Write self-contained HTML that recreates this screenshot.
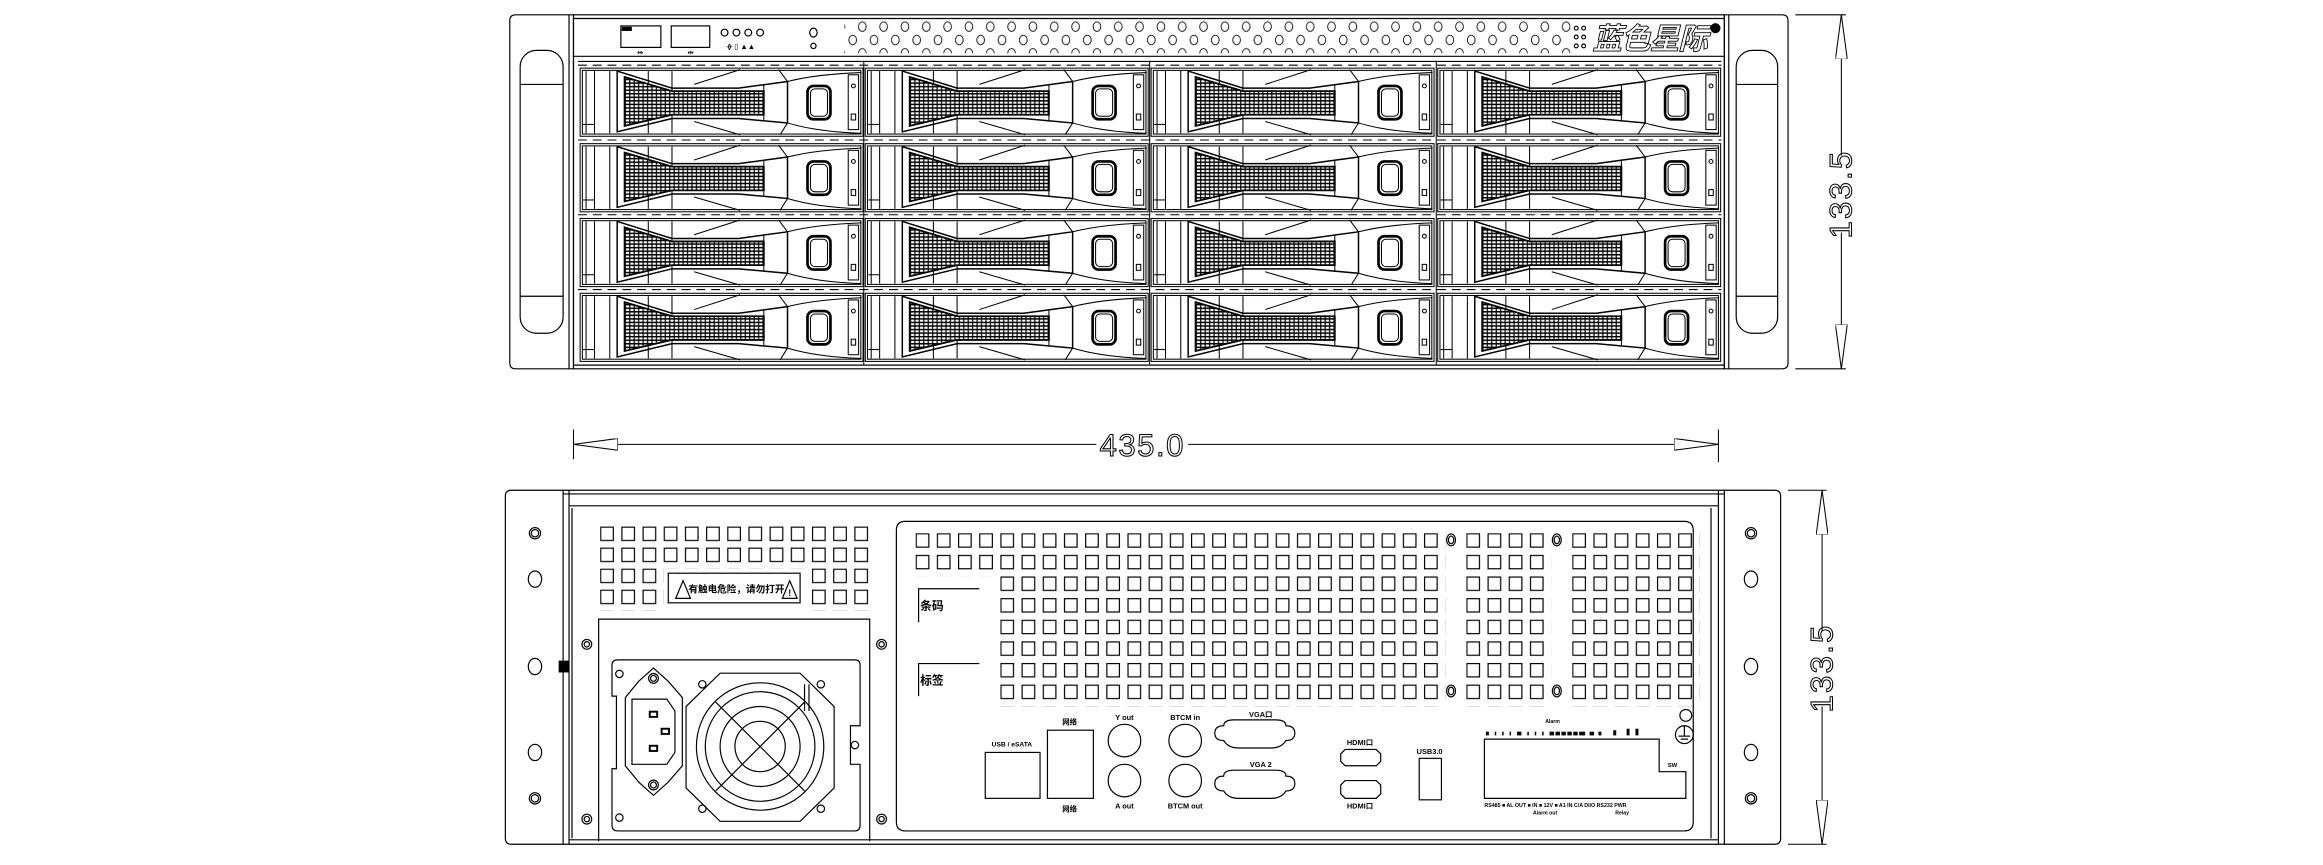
<!DOCTYPE html>
<html><head><meta charset="utf-8"><style>
html,body{margin:0;padding:0;background:#fff;}
svg{display:block;}
text{font-family:"Liberation Sans","Noto Sans CJK SC",sans-serif;}
</style></head><body>
<svg width="2323" height="865" viewBox="0 0 1568 584" xmlns="http://www.w3.org/2000/svg">
<defs>
  <pattern id="hatch" width="3" height="2.4" patternUnits="userSpaceOnUse">
    <rect width="3" height="2.4" fill="#fff"/>
    <line x1="0" y1="0.5" x2="3" y2="0.5" stroke="#000" stroke-width="1"/>
    <line x1="0.5" y1="0" x2="0.5" y2="2.4" stroke="#000" stroke-width="0.8"/>
  </pattern>
  <pattern id="holes" x="575" y="13" width="14.4" height="18" patternUnits="userSpaceOnUse">
    <ellipse cx="7" cy="5" rx="2.6" ry="3.2" fill="none" stroke="#000" stroke-width="0.6"/>
    <ellipse cx="0.5" cy="14" rx="2.6" ry="3.2" fill="none" stroke="#000" stroke-width="0.6"/>
    <ellipse cx="14.9" cy="14" rx="2.6" ry="3.2" fill="none" stroke="#000" stroke-width="0.6"/>
  </pattern>
  <pattern id="sq" x="618" y="360" width="14.3" height="14.6" patternUnits="userSpaceOnUse">
    <rect x="0.4" y="0.4" width="8.5" height="9" fill="none" stroke="#000" stroke-width="0.8"/>
  </pattern>
  <pattern id="sq2" x="405" y="355.5" width="14.3" height="14.2" patternUnits="userSpaceOnUse">
    <rect x="0.4" y="0.4" width="8.5" height="9" fill="none" stroke="#000" stroke-width="0.8"/>
  </pattern>
  <g id="bay" fill="none" stroke="#000" stroke-width="0.7">
    <rect x="0" y="0" width="191" height="46"/>
    <rect x="1.5" y="1.5" width="188" height="43"/>
    <line x1="4" y1="2" x2="4" y2="44"/>
    <line x1="9.7" y1="2" x2="9.7" y2="44"/>
    <line x1="2" y1="38" x2="9.7" y2="38"/>
    <line x1="20" y1="2" x2="20" y2="44"/>
    <line x1="46" y1="2" x2="46" y2="44"/>
    <line x1="62" y1="2" x2="62" y2="44"/>
    <polygon points="25,2 62,13.5 107,13.5 140,9 140,37 107,34 62,34 25,43" stroke-width="1"/>
    <polygon points="30,6 62,15.5 124,15.5 124,31.5 62,31.5 30,39" fill="url(#hatch)" stroke-width="1.2"/>
    <line x1="124" y1="11" x2="124" y2="36"/>
    <line x1="77" y1="11" x2="108" y2="1"/>
    <line x1="77" y1="36" x2="108" y2="45"/>
    <line x1="134" y1="1" x2="140" y2="9"/>
    <line x1="140" y1="37" x2="135" y2="45"/>
    <path d="M140,9 Q160,4 190,3"/>
    <path d="M140,37 Q160,43 190,44"/>
    <rect x="153.5" y="12" width="15.5" height="22.5" rx="4" stroke-width="1.8"/>
    <rect x="155.5" y="14" width="11.5" height="18.5" rx="3"/>
    <rect x="181" y="4.5" width="7" height="37"/>
    <circle cx="184.5" cy="12" r="1.3"/>
    <rect x="183" y="31" width="3" height="4"/>
  </g>
  <marker id="a" viewBox="0 0 30 8" refX="30" refY="4" markerWidth="30" markerHeight="8" markerUnits="userSpaceOnUse" orient="auto">
    <path d="M0,0 L30,4 L0,8 Z" fill="#fff" stroke="#000" stroke-width="0.7"/>
  </marker>
</defs>

<!-- ============ FRONT VIEW ============ -->
<g fill="none" stroke="#000" stroke-width="0.8">
  <path d="M348,10 H387 V249 H348 Q344,249 344,245 V14 Q344,10 348,10 Z"/>
  <rect x="351" y="34" width="29" height="191" rx="11"/>
  <line x1="351" y1="57" x2="380" y2="57"/>
  <line x1="351" y1="200" x2="380" y2="200"/>
  <line x1="384" y1="10" x2="384" y2="249"/>
  <path d="M1164,10 H1203 Q1207,10 1207,14 V245 Q1207,249 1203,249 H1164 Z"/>
  <rect x="1172" y="34" width="28" height="191" rx="11"/>
  <line x1="1172" y1="57" x2="1200" y2="57"/>
  <line x1="1172" y1="200" x2="1200" y2="200"/>
  <line x1="1167" y1="10" x2="1167" y2="249"/>
  <rect x="387" y="10" width="777" height="239"/>
  <line x1="387" y1="12.5" x2="1164" y2="12.5"/>
  <line x1="387" y1="38" x2="1164" y2="38"/>
  <line x1="390" y1="41.5" x2="1162" y2="41.5"/>
  <line x1="387" y1="246.5" x2="1164" y2="246.5"/>
  <rect x="419" y="17.5" width="27" height="14.5"/>
  <rect x="420" y="18.5" width="6" height="2" fill="#000"/>
  <rect x="453" y="17.5" width="26" height="14.5"/>
  <text x="432" y="37" font-size="5" fill="#000" stroke="none" text-anchor="middle">⇹</text>
  <text x="466" y="37" font-size="5" fill="#000" stroke="none" text-anchor="middle">⇹</text>
  <circle cx="489" cy="22" r="2.3"/><circle cx="497" cy="22" r="2.3"/>
  <circle cx="505" cy="22" r="2.3"/><circle cx="513" cy="22" r="2.3"/>
  <text x="500" y="33" font-size="5" fill="#000" stroke="none" text-anchor="middle">ᚖ ▯ ▲▲</text>
  <ellipse cx="549" cy="22" rx="2.5" ry="3"/>
  <circle cx="549" cy="31" r="1.8"/>
  <rect x="570" y="13" width="490" height="23" fill="url(#holes)" stroke="none"/>
  <circle cx="1064" cy="19" r="1.3"/><circle cx="1069" cy="19" r="1.3"/>
  <circle cx="1064" cy="25" r="1.3"/><circle cx="1069" cy="25" r="1.3"/>
  <circle cx="1064" cy="31" r="1.3"/><circle cx="1069" cy="31" r="1.3"/>
  <text x="1075" y="33" font-size="20" font-weight="bold" font-style="italic" fill="none" stroke="#000" stroke-width="0.6" font-family="'Noto Sans CJK SC',sans-serif" textLength="78">蓝色星际</text>
  <circle cx="1158" cy="19" r="3" fill="#000"/>
</g>
<use href="#bay" x="391.5" y="46"/><use href="#bay" x="584" y="46"/><use href="#bay" x="777" y="46"/><use href="#bay" x="970.5" y="46"/>
<use href="#bay" x="391.5" y="97"/><use href="#bay" x="584" y="97"/><use href="#bay" x="777" y="97"/><use href="#bay" x="970.5" y="97"/>
<use href="#bay" x="391.5" y="147.5"/><use href="#bay" x="584" y="147.5"/><use href="#bay" x="777" y="147.5"/><use href="#bay" x="970.5" y="147.5"/>
<use href="#bay" x="391.5" y="198"/><use href="#bay" x="584" y="198"/><use href="#bay" x="777" y="198"/><use href="#bay" x="970.5" y="198"/>
<g stroke="#000" stroke-width="0.7" fill="none">
  <line x1="583" y1="41" x2="583" y2="246"/><line x1="776" y1="41" x2="776" y2="246"/><line x1="969.5" y1="41" x2="969.5" y2="246"/>
  <line x1="390" y1="94.5" x2="1162" y2="94.5" stroke-dasharray="6,4"/>
  <line x1="390" y1="145" x2="1162" y2="145" stroke-dasharray="6,4"/>
  <line x1="390" y1="195.5" x2="1162" y2="195.5" stroke-dasharray="6,4"/>
  <line x1="390" y1="44" x2="1162" y2="44" stroke-dasharray="6,4"/>
</g>

<g stroke="#000" stroke-width="0.7" fill="none">
  <line x1="1212" y1="10" x2="1246" y2="10"/>
  <line x1="1212" y1="249" x2="1246" y2="249"/>
  <line x1="1243" y1="105" x2="1243" y2="10" marker-end="url(#a)"/>
  <line x1="1243" y1="157" x2="1243" y2="249" marker-end="url(#a)"/>
  <line x1="387" y1="290" x2="387" y2="310"/>
  <line x1="1160" y1="290" x2="1160" y2="312"/>
  <line x1="740" y1="300" x2="387" y2="300" marker-end="url(#a)"/>
  <line x1="802" y1="300" x2="1160" y2="300" marker-end="url(#a)"/>
</g>
<text x="771" y="308" font-size="21" text-anchor="middle" letter-spacing="1" fill="none" stroke="#000" stroke-width="0.7">435.0</text>
<text transform="translate(1250,131) rotate(-90)" font-size="21" text-anchor="middle" letter-spacing="1.5" fill="none" stroke="#000" stroke-width="0.7">133.5</text>

<!-- ============ REAR VIEW ============ -->
<g fill="none" stroke="#000" stroke-width="0.8">
  <path d="M345,331 H380 V570 H345 Q341,570 341,566 V335 Q341,331 345,331 Z"/>
  <line x1="384" y1="331" x2="384" y2="570"/>
  <line x1="386" y1="343" x2="386" y2="566"/>
  <path d="M1164,331 H1198 Q1202,331 1202,335 V566 Q1202,570 1198,570 H1164 Z"/>
  <line x1="1160" y1="331" x2="1160" y2="570"/>
  <line x1="1155" y1="343" x2="1155" y2="566"/>
  <line x1="380" y1="331" x2="1164" y2="331"/>
  <line x1="380" y1="333.5" x2="1164" y2="333.5"/>
  <line x1="384" y1="341.5" x2="1160" y2="341.5"/>
  <line x1="380" y1="570" x2="1164" y2="570"/>
  <line x1="384" y1="567" x2="1160" y2="567"/>
  <circle cx="361" cy="360" r="3.8"/><circle cx="361" cy="360" r="2.5"/>
  <ellipse cx="361" cy="391" rx="4.5" ry="5.5"/>
  <ellipse cx="361" cy="450" rx="4.5" ry="5.5"/>
  <ellipse cx="361" cy="508" rx="4.5" ry="5.5"/>
  <circle cx="361" cy="539" r="3.8"/><circle cx="361" cy="539" r="2.5"/>
  <circle cx="1182" cy="360" r="3.8"/><circle cx="1182" cy="360" r="2.5"/>
  <ellipse cx="1182" cy="391" rx="4.5" ry="5.5"/>
  <ellipse cx="1182" cy="450" rx="4.5" ry="5.5"/>
  <ellipse cx="1182" cy="508" rx="4.5" ry="5.5"/>
  <circle cx="1182" cy="539" r="3.8"/><circle cx="1182" cy="539" r="2.5"/>
</g>
<rect x="377" y="446" width="7" height="8" fill="#000"/>
<rect x="405" y="355.5" width="185.9" height="28.4" fill="url(#sq2)"/>
<rect x="405" y="383.9" width="42.9" height="28.4" fill="url(#sq2)"/>
<rect x="548" y="383.9" width="42.9" height="28.4" fill="url(#sq2)"/>
<g fill="none" stroke="#000" stroke-width="0.8">
  <rect x="451" y="387" width="89" height="20"/>
  <path d="M456,404 L461,392 L466,404 Z"/>
  <path d="M528,404 L533,392 L538,404 Z"/>
</g>
<text x="497" y="400" font-size="6.5" font-weight="bold" text-anchor="middle" fill="#000">有触电危险，请勿打开</text>
<text x="533" y="402.5" font-size="6" font-weight="bold" text-anchor="middle" fill="#000">!</text>

<g fill="none" stroke="#000" stroke-width="0.8">
  <polyline points="404,568 404,418 587,418 587,568"/>
  <circle cx="396" cy="435" r="3.3"/><circle cx="396" cy="435" r="1.8"/>
  <circle cx="595" cy="435" r="3.3"/><circle cx="595" cy="435" r="1.8"/>
  <circle cx="396" cy="553" r="3.3"/><circle cx="396" cy="553" r="1.8"/>
  <circle cx="595" cy="553" r="3.3"/><circle cx="595" cy="553" r="1.8"/>
  <path d="M417,445.5 H577 Q580.5,445.5 580.5,449 V490 H574 V516 H580.5 V557 Q580.5,561 577,561 H417 Q413,561 413,557 V519 H416 V470 H413 V449 Q413,445.5 417,445.5 Z"/>
  <circle cx="418" cy="455" r="2.5"/><circle cx="418" cy="552" r="2.5"/>
  <circle cx="577" cy="503" r="2.5"/>
  <path d="M431,460 L441,451 L451,460 L460.5,471 V517 L451,528 L441,537 L431,528 L422,517 V471 Z"/>
  <circle cx="441" cy="458" r="3.3"/><circle cx="441" cy="458" r="2"/>
  <circle cx="441" cy="530" r="3.3"/><circle cx="441" cy="530" r="2"/>
  <path d="M426.5,472 H450 L455.5,480 V508 L450,516 H426.5 Z"/>
  <rect x="438.5" y="480.5" width="5" height="3.5" stroke-width="1.3"/>
  <rect x="446.5" y="492" width="5" height="3.5" stroke-width="1.3"/>
  <rect x="438.5" y="503.5" width="5" height="3.5" stroke-width="1.3"/>
  <path d="M486,454.5 H540 L563,477 V532 L540,554.5 H486 L463,532 V477 Z"/>
  <circle cx="513" cy="504" r="43"/>
  <circle cx="513" cy="504" r="37"/>
  <circle cx="513" cy="504" r="27"/>
  <circle cx="513" cy="504" r="17"/>
  <line x1="483" y1="474" x2="543" y2="534"/><line x1="543" y1="474" x2="483" y2="534"/>
  <circle cx="474" cy="462" r="2.5"/><circle cx="554" cy="462" r="2.5"/>
  <circle cx="474" cy="546" r="2.5"/><circle cx="554" cy="546" r="2.5"/>
  <line x1="543" y1="462" x2="543" y2="480"/><line x1="546" y1="462" x2="546" y2="480"/>
</g>

<g fill="none" stroke="#000" stroke-width="0.8">
  <path d="M611,352 H1137 Q1143,352 1143,358 V555 Q1143,561 1137,561 H611 Q605,561 605,555 V358 Q605,352 611,352 Z"/>
</g>
<rect x="618" y="360" width="357.5" height="29.2" fill="url(#sq)"/>
<rect x="675.2" y="389.2" width="300.3" height="87.6" fill="url(#sq)"/>
<rect x="989.8" y="360" width="57.2" height="116.8" fill="url(#sq)"/>
<rect x="1061.3" y="360" width="85.8" height="116.8" fill="url(#sq)"/>
<g fill="none" stroke="#000" stroke-width="0.8">
  <ellipse cx="979.5" cy="364.5" rx="3" ry="4"/><ellipse cx="979.5" cy="364.5" rx="1.8" ry="2.6"/>
  <ellipse cx="1050.9" cy="364.5" rx="3" ry="4"/><ellipse cx="1050.9" cy="364.5" rx="1.8" ry="2.6"/>
  <ellipse cx="979.5" cy="466.5" rx="3" ry="4"/><ellipse cx="979.5" cy="466.5" rx="1.8" ry="2.6"/>
  <ellipse cx="1050.9" cy="466.5" rx="3" ry="4"/><ellipse cx="1050.9" cy="466.5" rx="1.8" ry="2.6"/>
  <polyline points="620,420 620,397.5 661,397.5"/>
  <polyline points="620,470 620,448 661,448"/>
  <rect x="665" y="508" width="37" height="31"/>
  <rect x="707" y="493" width="31" height="46"/>
  <circle cx="759" cy="500" r="11"/><circle cx="759" cy="527" r="11"/>
  <circle cx="800" cy="500" r="11"/><circle cx="800" cy="527" r="11"/>
  <path d="M833,486 H861 Q868,486 868,490 Q874,490 874,495 Q874,500 868,500 Q865,505 858,505 H836 Q829,505 826,500 Q820,500 820,495 Q820,490 826,490 Q826,486 833,486 Z"/>
  <path d="M833,520 H861 Q868,520 868,524 Q874,524 874,529 Q874,534 868,534 Q865,539 858,539 H836 Q829,539 826,534 Q820,534 820,529 Q820,524 826,524 Q826,520 833,520 Z"/>
  <path d="M908,506 H929 L932,509 V514 L929,517 H908 L905,514 V509 Z"/>
  <path d="M908,527 H929 L932,530 V536 L929,539 H908 L905,536 V530 Z"/>
  <rect x="958" y="512" width="15" height="28"/>
  <polygon points="1002,499 1120,499 1120,521 1138,521 1138,539 1002,539"/>
  <circle cx="1138" cy="483" r="4"/>
  <circle cx="1137" cy="496" r="6"/>
  <line x1="1137" y1="490" x2="1137" y2="497"/>
  <line x1="1133" y1="497" x2="1141" y2="497"/>
  <line x1="1134.5" y1="499" x2="1139.5" y2="499"/>
</g>
<g fill="#000" font-weight="bold" text-anchor="middle">
  <text x="629" y="412" font-size="8">条码</text>
  <text x="629" y="462" font-size="8">标签</text>
  <text x="683" y="504" font-size="4.5">USB / eSATA</text>
  <text x="722" y="489" font-size="5">网络</text>
  <text x="722" y="548" font-size="5">网络</text>
  <text x="759" y="486" font-size="5">Y out</text>
  <text x="759" y="546" font-size="5">A out</text>
  <text x="800" y="486" font-size="5">BTCM in</text>
  <text x="800" y="546" font-size="5">BTCM out</text>
  <text x="851" y="484" font-size="5">VGA口</text>
  <text x="851" y="518" font-size="5">VGA 2</text>
  <text x="918" y="503" font-size="5">HDMI口</text>
  <text x="918" y="546" font-size="5">HDMI口</text>
  <text x="965" y="509" font-size="5">USB3.0</text>
  <text x="1129" y="518" font-size="4">SW</text>
  <text x="1048" y="488" font-size="3.5">Alarm</text>
  <text x="1050" y="545" font-size="3.5" textLength="96" lengthAdjust="spacingAndGlyphs">RS485 ■ AL OUT ■ IN ■ 12V ■ A1 IN C/A DI/O RS232 PWR</text>
  <text x="1043" y="550" font-size="3.5">Alarm out</text>
  <text x="1095" y="550" font-size="3.5">Relay</text>
</g>
<g fill="#000">
  <rect x="1003" y="494" width="2" height="2.5"/><rect x="1009" y="494" width="1" height="2.5"/>
  <rect x="1014" y="494" width="1" height="2.5"/><rect x="1019" y="494" width="1" height="2.5"/>
  <rect x="1024" y="494" width="3" height="2.5"/><rect x="1031" y="494" width="1" height="2.5"/>
  <rect x="1036" y="494" width="1" height="2.5"/><rect x="1041" y="494" width="1" height="2.5"/>
  <rect x="1046" y="494" width="3" height="2.5"/><rect x="1050" y="494" width="3" height="2.5"/>
  <rect x="1054" y="494" width="3" height="2.5"/><rect x="1058" y="494" width="3" height="2.5"/>
  <rect x="1062" y="494" width="3" height="2.5"/><rect x="1066" y="494" width="4" height="2.5"/>
  <rect x="1073" y="494" width="3" height="2.5"/><rect x="1079" y="494" width="2" height="2.5"/>
  <rect x="1089" y="493" width="2" height="3.5"/><rect x="1098" y="492" width="2" height="4.5"/>
  <rect x="1104" y="492" width="2" height="4.5"/>
</g>

<g stroke="#000" stroke-width="0.7" fill="none">
  <line x1="1207" y1="331" x2="1233" y2="331"/>
  <line x1="1207" y1="570" x2="1233" y2="570"/>
  <line x1="1230" y1="426" x2="1230" y2="331" marker-end="url(#a)"/>
  <line x1="1230" y1="477" x2="1230" y2="570" marker-end="url(#a)"/>
</g>
<text transform="translate(1237,451) rotate(-90)" font-size="21" text-anchor="middle" letter-spacing="1.5" fill="none" stroke="#000" stroke-width="0.7">133.5</text>
</svg>
</body></html>
